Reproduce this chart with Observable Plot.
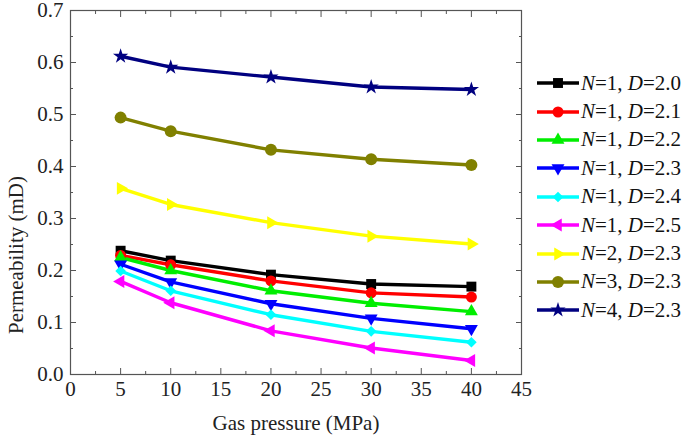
<!DOCTYPE html>
<html><head><meta charset="utf-8">
<script src="https://cdn.jsdelivr.net/npm/d3@7"></script>
<script src="https://cdn.jsdelivr.net/npm/@observablehq/plot@0.6"></script>
<style>
body{margin:0;background:#fff;}
#wrap{position:relative;width:685px;height:436px;overflow:hidden;}
#legend{position:absolute;left:536px;top:69px;font-family:"Liberation Serif","Times New Roman",serif;font-size:21px;color:#111;}
.row{display:flex;align-items:center;height:28.4px;white-space:nowrap;}
.row svg{margin-right:1px;}
#ytitle{position:absolute;left:16px;top:255px;transform:translate(-50%,-50%) rotate(-90deg);font-family:"Liberation Serif","Times New Roman",serif;font-size:21px;color:#222;white-space:nowrap;line-height:1;}
</style></head><body><div id="wrap"><div id="chart"></div><div id="ytitle"></div><div id="legend"></div></div>
<script>
// ---- data ----
const pressure = [5, 10, 20, 30, 40];
const perm_N1_D20 = [0.238, 0.219, 0.192, 0.174, 0.169];
const perm_N1_D21 = [0.229, 0.211, 0.180, 0.157, 0.149];
const perm_N1_D22 = [0.225, 0.200, 0.161, 0.137, 0.121];
const perm_N1_D23 = [0.212, 0.178, 0.136, 0.108, 0.088];
const perm_N1_D24 = [0.199, 0.161, 0.115, 0.083, 0.062];
const perm_N1_D25 = [0.179, 0.138, 0.084, 0.051, 0.027];
const perm_N2_D23 = [0.358, 0.327, 0.292, 0.266, 0.251];
const perm_N3_D23 = [0.494, 0.468, 0.432, 0.414, 0.403];
const perm_N4_D23 = [0.612, 0.591, 0.572, 0.553, 0.548];
const seriesN = ["1", "1", "1", "1", "1", "1", "2", "3", "4"];
const seriesD = ["2.0", "2.1", "2.2", "2.3", "2.4", "2.5", "2.3", "2.3", "2.3"];
const xTicks = [0, 5, 10, 15, 20, 25, 30, 35, 40, 45];
const yTicks = [0, 0.1, 0.2, 0.3, 0.4, 0.5, 0.6, 0.7];
const xTitle = "Gas pressure (MPa)";
const yTitle = "Permeability (mD)";

// ---- styles ----
const values = [perm_N1_D20, perm_N1_D21, perm_N1_D22, perm_N1_D23, perm_N1_D24, perm_N1_D25, perm_N2_D23, perm_N3_D23, perm_N4_D23];
const colors = ["#000000", "#ff0000", "#00ee00", "#0000ff", "#00ffff", "#ff00ff", "#ffff00", "#808000", "#000080"];
const symbols = ["square", "circle", "triangle", "triangle", "diamond2", "triangle", "triangle", "circle", "star"];
const rotates = [0, 0, 0, 180, 0, -90, 90, 0, 0];
const sizes = [5.6, 5.5, 4.8, 4.8, 4.8, 4.8, 4.8, 6, 4.8];

const series = values.map((v, i) => pressure.map((p, j) => ({p, v: v[j], i})));

const marks = [];
series.forEach((s, i) => {
  marks.push(Plot.line(s, {x: "p", y: "v", stroke: colors[i], strokeWidth: 3.4}));
});
series.forEach((s, i) => {
  marks.push(Plot.dot(s, {x: "p", y: "v", symbol: () => symbols[i], fill: colors[i], stroke: "none", r: sizes[i], rotate: rotates[i]}));
});

const xMinor = xTicks.slice(0, -1).map(t => t + 2.5);
const yMinor = yTicks.slice(0, -1).map(t => t + 0.05);
const axisColor = "#555";
const noLabel = () => "";

const chart = Plot.plot({
  width: 685,
  height: 436,
  marginLeft: 70,
  marginRight: 164,
  marginTop: 10,
  marginBottom: 62,
  style: {fontFamily: "'Liberation Serif','Times New Roman',serif", fontSize: "21px", color: "#222", background: "#fff"},
  x: {domain: [0, 45]},
  y: {domain: [0, 0.7]},
  symbol: {type: "identity"},
  marks: [
    ...marks,
    Plot.frame({stroke: axisColor, strokeWidth: 1.2}),
    Plot.axisX(xTicks, {anchor: "bottom", tickSize: -6, tickPadding: 13, stroke: axisColor, tickFormat: d => d3.format("d")(d), label: xTitle, labelAnchor: "center", labelOffset: 55, labelArrow: false}),
    Plot.axisX(xMinor, {anchor: "bottom", tickSize: -3, stroke: axisColor, tickFormat: noLabel, label: null}),
    Plot.axisX(xTicks, {anchor: "top", tickSize: -6, stroke: axisColor, tickFormat: noLabel, label: null}),
    Plot.axisX(xMinor, {anchor: "top", tickSize: -3, stroke: axisColor, tickFormat: noLabel, label: null}),
    Plot.axisY(yTicks, {anchor: "left", tickSize: -6, tickPadding: 13, stroke: axisColor, tickFormat: d3.format(".1f"), label: null}),
    Plot.axisY(yMinor, {anchor: "left", tickSize: -3, stroke: axisColor, tickFormat: noLabel, label: null}),
    Plot.axisY(yTicks, {anchor: "right", tickSize: -6, stroke: axisColor, tickFormat: noLabel, label: null}),
    Plot.axisY(yMinor, {anchor: "right", tickSize: -3, stroke: axisColor, tickFormat: noLabel, label: null})
  ]
});
document.getElementById("chart").appendChild(chart);
document.getElementById("ytitle").textContent = yTitle;

// ---- legend ----
const legend = d3.select("#legend");
const symbolMap = {square: d3.symbolSquare, circle: d3.symbolCircle, triangle: d3.symbolTriangle, diamond2: d3.symbolDiamond2, star: d3.symbolStar};
seriesN.forEach((n, i) => {
  const row = legend.append("div").attr("class", "row");
  const svg = row.append("svg").attr("width", 44).attr("height", 20);
  svg.append("line").attr("x1", 1).attr("x2", 43).attr("y1", 10).attr("y2", 10).attr("stroke", colors[i]).attr("stroke-width", 3.4);
  const area = Math.PI * sizes[i] * sizes[i];
  svg.append("path").attr("d", d3.symbol(symbolMap[symbols[i]], area)()).attr("fill", colors[i])
    .attr("transform", `translate(22,10) rotate(${rotates[i]})`);
  const t = row.append("span");
  t.append("i").text("N");
  t.append("span").text(`=${n}, `);
  t.append("i").text("D");
  t.append("span").text(`=${seriesD[i]}`);
});
</script>
</body></html>
